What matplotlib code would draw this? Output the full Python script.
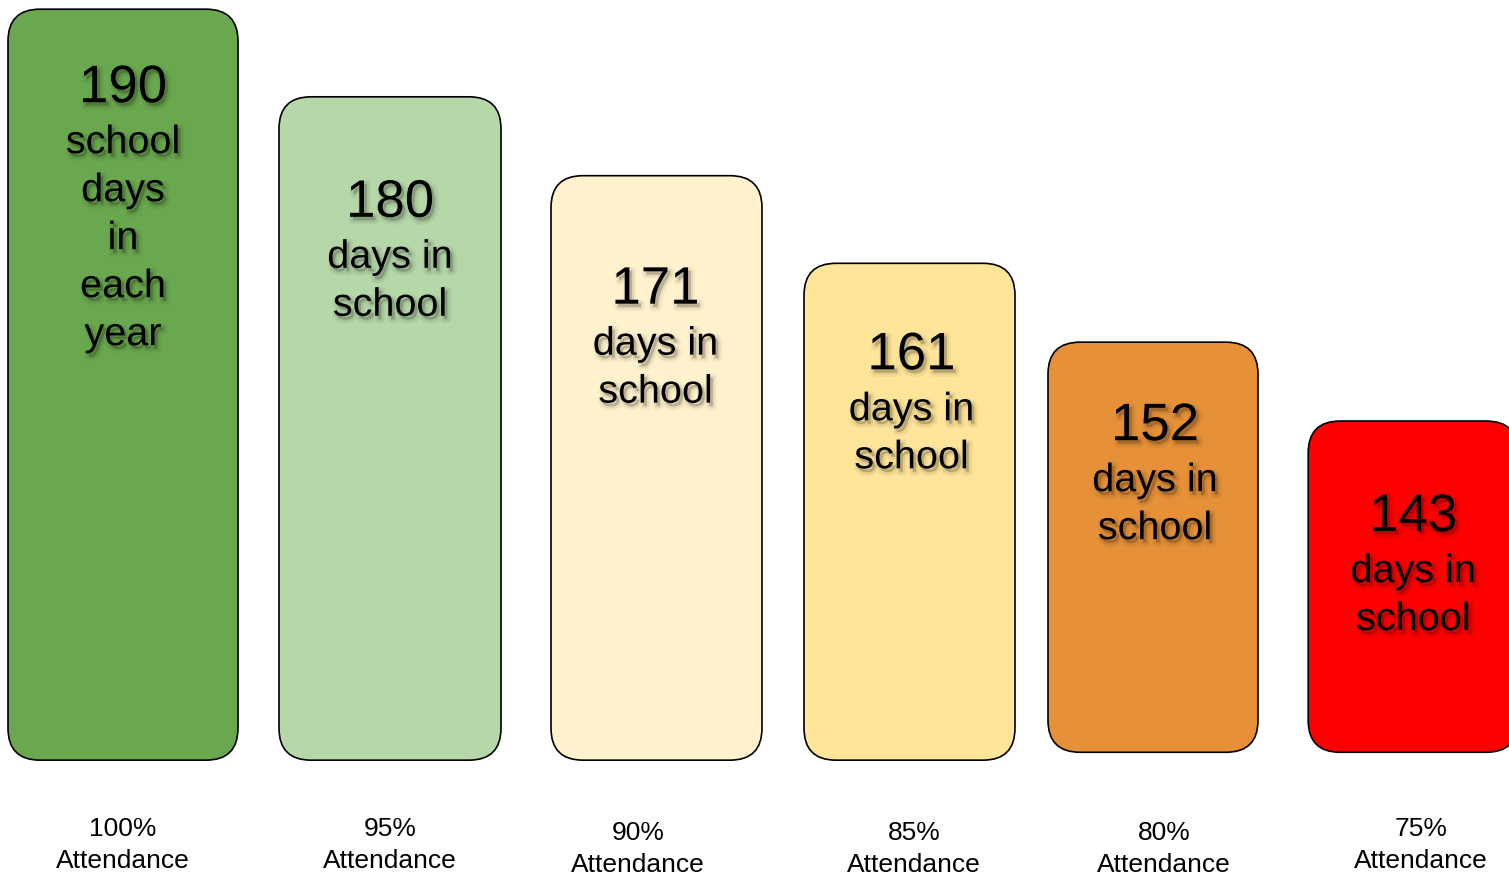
import matplotlib
matplotlib.use("Agg")
import matplotlib.pyplot as plt
from matplotlib.patches import FancyBboxPatch
import matplotlib.patheffects as pe
from matplotlib.transforms import offset_copy

# ---- data ----
days = [190, 180, 171, 161, 152, 143]
body_lines = [
    ["school", "days", "in", "each", "year"],
    ["days in", "school"],
    ["days in", "school"],
    ["days in", "school"],
    ["days in", "school"],
    ["days in", "school"],
]
pct_labels = ["100%", "95%", "90%", "85%", "80%", "75%"]
sub_label = "Attendance"
colors = ["#6aa84f", "#b6d7a8", "#fff2cc", "#ffe599", "#e69138", "#ff0000"]

# ---- layout / style ----
bar_width_px = [230, 222, 211, 211, 210, 210]
bar_dx_px = [-8.7, 1.4, 11, 7.1, -6.3, -3]
bar_floor = [104.3, 104.3, 104.3, 104.3, 105.2, 105.2]
num_offset_px = [74, 101, 109, 87, 79, 91]      # number centre below bar top
text_dx_px = [0, 0, -1, 2, 2, 0]
label_x_px = [123, 390, 638, 914, 1164, 1421]
label_y_px = [827, 827, 830, 830, 830, 827]

W, H = 1509, 875
fig = plt.figure(figsize=(W / 100, H / 100), dpi=100)
ax = fig.add_axes([0, 0, 1, 1])
ax.axis("off")
px_x = 256.9   # px per category
px_y = 8.763   # px per day
x_origin = 131.7
ax.set_xlim(-x_origin / px_x, (W - x_origin) / px_x)
ax.set_ylim(166.17 - (H - 218) / px_y, 166.17 + 218 / px_y)

FONT = "Liberation Sans"
radius_px = 32
aspect = (1 / px_y) / (1 / px_x)

shadow = [
    pe.SimplePatchShadow(offset=(2, -2.5), shadow_rgbFace="k", alpha=0.04, linewidth=6),
    pe.SimplePatchShadow(offset=(2, -2.5), shadow_rgbFace="k", alpha=0.06, linewidth=3),
    pe.SimplePatchShadow(offset=(2, -2.5), shadow_rgbFace="k", alpha=0.10, linewidth=0),
    pe.Normal(),
]

for i, v in enumerate(days):
    w = bar_width_px[i] / px_x
    xc = i + bar_dx_px[i] / px_x
    y0 = bar_floor[i]
    p = FancyBboxPatch((xc - w / 2, y0), w, v - y0,
                       boxstyle=f"round,pad=0,rounding_size={radius_px / px_x}",
                       mutation_aspect=aspect,
                       facecolor=colors[i], edgecolor="black", linewidth=1.2,
                       clip_on=False)
    ax.add_patch(p)

    # number
    num_base = num_offset_px[i] + 19
    tr = offset_copy(ax.transData, fig=fig, x=text_dx_px[i], y=-num_base, units="dots")
    ax.text(xc, v, str(v), transform=tr, ha="center", va="baseline",
            fontsize=38, family=FONT, color="black", path_effects=shadow)
    # body lines
    for k, line in enumerate(body_lines[i]):
        base = num_offset_px[i] + 56 + 48 * k + 14
        tr = offset_copy(ax.transData, fig=fig, x=text_dx_px[i], y=-base, units="dots")
        ax.text(xc, v, line, transform=tr, ha="center", va="baseline",
                fontsize=28.5, family=FONT, color="black", path_effects=shadow)

    # bottom labels
    for k, txt in enumerate([pct_labels[i], sub_label]):
        ypx = label_y_px[i] + 32 * k + 9.5
        ax.text(label_x_px[i] / W, 1 - ypx / H, txt, transform=fig.transFigure,
                ha="center", va="baseline",
                fontsize=19, family=FONT, color="black")

fig.savefig("out.png", dpi=100)
